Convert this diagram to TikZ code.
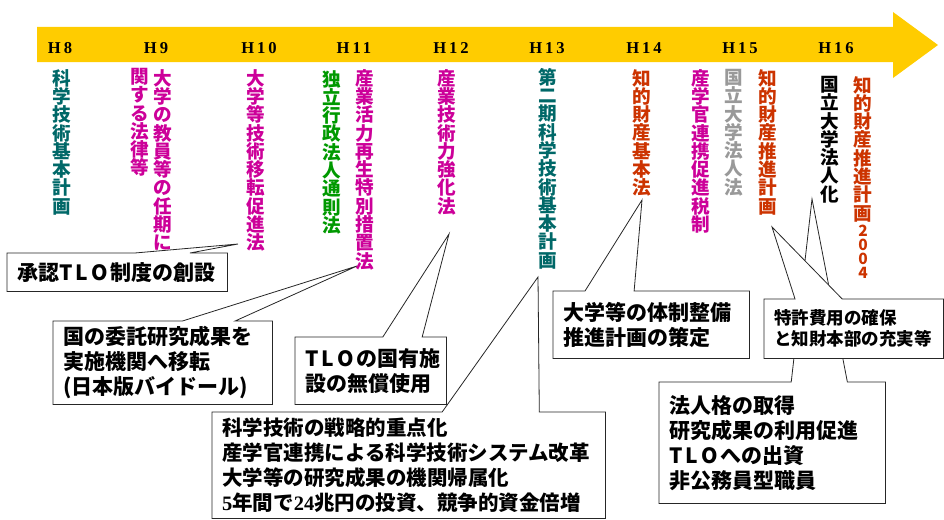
\documentclass[tikz,border=0pt]{standalone}
\usepackage{fontspec}
\setmainfont{Noto Sans CJK JP}
\newfontfamily\yearfont{Liberation Serif}[LetterSpace=18]
\newfontfamily\numfont{Liberation Serif}
\usetikzlibrary{positioning,calc,backgrounds}

\definecolor{tlgold}{HTML}{FFCC00}
\definecolor{tlteal}{HTML}{006868}
\definecolor{tlmag}{HTML}{CC0099}
\definecolor{tlgreen}{HTML}{009900}
\definecolor{tlorange}{HTML}{CC3300}
\definecolor{tlgray}{HTML}{999999}

% one character per line
\makeatletter
\newcommand\vstack[1]{\vstack@a#1\@nil}
\def\vstack@a#1#2\@nil{#1\ifx\@nil#2\@nil\else\\\vstack@a#2\@nil\fi}
\makeatother
\newcommand\TLO{T\kern.15em L\kern.15em O\kern.1em}
\newcommand\cfont{\fontsize{21}{25}\selectfont\bfseries}

\begin{document}
\begin{tikzpicture}[
    x=1pt, y=-1pt,
    yearlbl/.style={font=\yearfont\bfseries\fontsize{16.6}{18}\selectfont, anchor=base, inner sep=0pt},
    vlbl/.style={font=\fontsize{18.6}{18.3}\selectfont\bfseries, align=center, inner sep=0pt, anchor=north},
    cbox/.style={anchor=north west, align=left, inner xsep=10pt, inner ysep=0pt, font=\cfont},
    frame/.style={draw=black!85, line width=0.8pt, fill=white}
]
\useasboundingbox (0,0) rectangle (944,519);

% Year labels
\foreach \yr/\xx in {8/60,9/156,10/259,11/354,12/451,13/547,14/644,15/740,16/836}
    \node[yearlbl] (h\yr) at (\xx,53) {H\yr};

% Laws and plans
\node[vlbl, text=tlteal] (kihon1) at (62,69) {\vstack{科学技術基本計画}};
\node[vlbl, text=tlmag] (ninki) at (163,69) {\vstack{大学の教員等の任期に}};
\node[vlbl, text=tlmag] (horitsu) at (140,68) {\vstack{関する法律等}};
\node[vlbl, text=tlmag] (iten) at (256,69) {\vstack{大学等技術移転促進法}};
\node[vlbl, text=tlgreen] (tsusoku) at (332,70) {\vstack{独立行政法人通則法}};
\node[vlbl, text=tlmag] (katsuryoku) at (365,69) {\vstack{産業活力再生特別措置法}};
\node[vlbl, text=tlmag] (kyoka) at (447,69) {\vstack{産業技術力強化法}};
\node[vlbl, text=tlteal] (kihon2) at (548,68) {\vstack{第二期科学技術基本計画}};
\node[vlbl, text=tlorange] (chizai) at (642,69) {\vstack{知的財産基本法}};
\node[vlbl, text=tlmag] (zeisei) at (701,69) {\vstack{産学官連携促進税制}};
\node[vlbl, text=tlgray] (hojinho) at (734,69) {\vstack{国立大学法人法}};
\node[vlbl, text=tlorange] (suishin) at (768,69) {\vstack{知的財産推進計画}};
\node[vlbl, text=black] (hojinka) at (830,76) {\vstack{国立大学法人化}};
\node[vlbl, text=tlorange] (suishin2) at (863,76) {\vstack{知的財産推進計画}};
\node[vlbl, text=tlorange, font=\fontsize{15.5}{14}\selectfont\bfseries, below=3pt of suishin2] (nen2004) {\vstack{2004}};

% Callout tips
\coordinate (p shonin) at (238,244);
\coordinate (p itaku) at (357,266);
\coordinate (p musho) at (449,234);
\coordinate (p senryaku) at (538,277);
\coordinate (p taisei) at (642,200);
\coordinate (p tokkyo) at (772,227);
\coordinate (p hojin) at (812,199);

% Callouts
\node[cbox, text width=200pt, minimum height=38pt] (shonin) at (7,253) {承認\TLO 制度の創設};
\node[cbox, text width=199pt, minimum height=83pt] (itaku) at (53,321) {国の委託研究成果を\\実施機関へ移転\\(日本版バイドール)};
\node[cbox, text width=131pt, minimum height=67pt] (musho) at (295,337) {\TLO の国有施\\設の無償使用};
\node[cbox, text width=373pt, minimum height=106pt, font=\fontsize{20.5}{25}\selectfont\bfseries] (senryaku) at (212,412) {科学技術の戦略的重点化\\産学官連携による科学技術システム改革\\大学等の研究成果の機関帰属化\\{\numfont 5}年間で{\numfont 24}兆円の投資、競争的資金倍増};
\node[cbox, text width=176pt, minimum height=67pt] (taisei) at (553,291) {大学等の体制整備\\推進計画の策定};
\node[cbox, text width=206pt, minimum height=121pt] (hojin) at (659,382) {法人格の取得\\研究成果の利用促進\\\TLO への出資\\非公務員型職員};
\node[cbox, text width=159pt, minimum height=59pt, font=\fontsize{17.5}{21}\selectfont\bfseries] (tokkyo) at (764,299) {特許費用の確保\\と知財本部の充実等};

\begin{pgfonlayer}{background}
% Time axis
\fill[tlgold] (37,27) -- (893,27) -- (893,12) -- (938,45) -- (893,78) -- (893,62) -- (37,62) -- cycle;

% Callout frames
\draw[frame] (shonin.north west) -- ($(shonin.north west)!.58!(shonin.north east)$) -- (p shonin) -- ($(shonin.north west)!.83!(shonin.north east)$) -- (shonin.north east) -- (shonin.south east) -- (shonin.south west) -- cycle;
\draw[frame] (itaku.north west) -- ($(itaku.north west)!.59!(itaku.north east)$) -- (p itaku) -- ($(itaku.north west)!.83!(itaku.north east)$) -- (itaku.north east) -- (itaku.south east) -- (itaku.south west) -- cycle;
\draw[frame] (musho.north west) -- ($(musho.north west)!.58!(musho.north east)$) -- (p musho) -- ($(musho.north west)!.84!(musho.north east)$) -- (musho.north east) -- (musho.south east) -- (musho.south west) -- cycle;
\draw[frame] (senryaku.north west) -- ($(senryaku.north west)!.585!(senryaku.north east)$) -- (p senryaku) -- ($(senryaku.north west)!.832!(senryaku.north east)$) -- (senryaku.north east) -- (senryaku.south east) -- (senryaku.south west) -- cycle;
\draw[frame] (taisei.north west) -- ($(taisei.north west)!.163!(taisei.north east)$) -- (p taisei) -- ($(taisei.north west)!.413!(taisei.north east)$) -- (taisei.north east) -- (taisei.south east) -- (taisei.south west) -- cycle;
\draw[frame] (hojin.north west) -- ($(hojin.north west)!.584!(hojin.north east)$) -- (p hojin) -- ($(hojin.north west)!.832!(hojin.north east)$) -- (hojin.north east) -- (hojin.south east) -- (hojin.south west) -- cycle;
\draw[frame] (tokkyo.north west) -- ($(tokkyo.north west)!.173!(tokkyo.north east)$) -- (p tokkyo) -- ($(tokkyo.north west)!.436!(tokkyo.north east)$) -- (tokkyo.north east) -- (tokkyo.south east) -- (tokkyo.south west) -- cycle;
\end{pgfonlayer}

\end{tikzpicture}
\end{document}
